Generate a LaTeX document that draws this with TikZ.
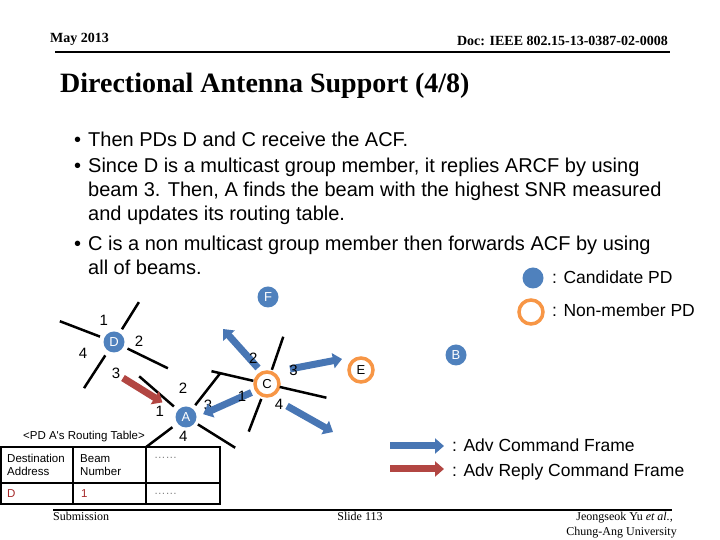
\documentclass[tikz,border=0pt]{standalone}
\usepackage{fontspec}
\setmainfont{Liberation Serif}
\newfontfamily\arialfont{Liberation Sans}
\usetikzlibrary{arrows.meta,calc}

\definecolor{pdblue}{RGB}{79,129,189}
\definecolor{pdorange}{RGB}{247,150,70}
\definecolor{cmdblue}{RGB}{72,118,180}
\definecolor{replyred}{RGB}{178,70,66}
\definecolor{tabred}{RGB}{165,40,40}

\tikzset{
  candidate/.style={circle,fill=pdblue,text=white,minimum size=21pt,inner sep=0pt,
    font=\arialfont\fontsize{13}{13}\selectfont},
  nonmember/.style={circle,draw=pdorange,line width=3.5pt,fill=white,minimum size=24pt,
    inner sep=0pt,font=\arialfont\fontsize{13}{13}\selectfont},
  beam/.style={line width=2.5pt},
  beamno/.style={inner sep=0pt,font=\arialfont\fontsize{15}{15}\selectfont},
  cmdarrow/.style={draw=cmdblue,line width=7pt,-{Triangle[length=9pt,width=15pt]}},
  replyarrow/.style={cmdarrow,draw=replyred},
  bodytext/.style={anchor=base west,inner sep=0pt,font=\arialfont\fontsize{20}{24}\selectfont},
  legendtext/.style={anchor=base west,inner sep=0pt,font=\arialfont\fontsize{17.5}{20}\selectfont},
  tabletext/.style={anchor=west,inner sep=0pt,align=left,font=\arialfont\fontsize{11.5}{13}\selectfont},
  slidetext/.style={inner sep=0pt,font=\fontsize{12}{14}\selectfont},
}

\begin{document}
\begin{tikzpicture}[x=1pt,y=1pt]
  \useasboundingbox (0,0) rectangle (720,540);

  % header and title
  \node[slidetext,anchor=base west,font=\bfseries\fontsize{14}{14}\selectfont] (date) at (50,497) {May 2013};
  \node[slidetext,anchor=base east,font=\bfseries\fontsize{14}{14}\selectfont] (doc) at (668,494) {Doc: IEEE 802.15-13-0387-02-0008};
  \draw[line width=2.5pt] (55,488) -- (670,488);
  \node[anchor=base west,inner sep=0pt,font=\bfseries\fontsize{28}{28}\selectfont] (title) at (60,447) {Directional Antenna Support (4/8)};

  % bullets
  \node[bodytext] (dot1) at (74,393) {•};
  \node[bodytext] (line1) at (88,393) {Then PDs D and C receive the ACF.};
  \node[bodytext] (dot2) at (74,367) {•};
  \node[bodytext] (line2) at (88,367) {Since D is a multicast group member, it replies ARCF by using};
  \node[bodytext] (line3) at (88,343) {beam 3. Then, A finds the beam with the highest SNR measured};
  \node[bodytext] (line4) at (88,319) {and updates its routing table.};
  \node[bodytext] (dot3) at (74,289) {•};
  \node[bodytext] (line5) at (88,289) {C is a non multicast group member then forwards ACF by using};
  \node[bodytext] (line6) at (88,265) {all of beams.};

  % legend
  \node[candidate] (keycand) at (533,262) {};
  \node[nonmember] (keynon) at (531,228) {};
  \node[legendtext] (keycandtext) at (552,256) {: Candidate PD};
  \node[legendtext] (keynontext) at (552,223) {: Non-member PD};
  \coordinate (keycmd) at (390,94);
  \coordinate (keycmdtip) at (444,94);
  \coordinate (keyrep) at (390,71);
  \coordinate (keyreptip) at (444,71);
  \draw[cmdarrow] (keycmd) -- (keycmdtip);
  \draw[replyarrow] (keyrep) -- (keyreptip);
  \node[legendtext] (keycmdtext) at (452,88) {: Adv Command Frame};
  \node[legendtext] (keyreptext) at (452,63) {: Adv Reply Command Frame};

  % PDs
  \node[candidate] (D) at (114,198) {D};
  \node[candidate] (A) at (186,123) {A};
  \node[nonmember] (C) at (267,156) {C};
  \node[nonmember] (E) at (361,170) {E};
  \node[candidate] (B) at (456,185) {B};
  \node[candidate] (F) at (268,243) {F};

  % beams of D, A and C
  \foreach \ang/\rin/\rout in {58/15/47,159/15/58,237/16/55,-26/15/60}
    \draw[beam] ($(D)+(\ang:\rin)$) -- ($(D)+(\ang:\rout)$);
  \foreach \ang/\r/\n in {115/24/1,2/25/2,-86/31/3,200/33/4}
    \node[beamno] (D-b\n) at ($(D)+(\ang:\r)$) {\n};
  \foreach \ang/\rin/\rout in {139/16/62,52/15/56,217/17/50,-32/14/58}
    \draw[beam] ($(A)+(\ang:\rin)$) -- ($(A)+(\ang:\rout)$);
  \foreach \ang/\r/\n in {167/27/1,96/29/2,28/25/3,-98/20/4}
    \node[beamno] (A-b\n) at ($(A)+(\ang:\r)$) {\n};
  \foreach \ang/\rin/\rout in {71/15/50,167/14/57,-13/13/61,249/16/51}
    \draw[beam] ($(C)+(\ang:\rin)$) -- ($(C)+(\ang:\rout)$);

  % frames sent
  \coordinate (c2tail) at (258,172);
  \coordinate (c2tip) at (223,211);
  \coordinate (c3tail) at (290,171);
  \coordinate (c3tip) at (342,181);
  \coordinate (c4tail) at (287,134);
  \coordinate (c4tip) at (333,108);
  \coordinate (d3tail) at (123,162);
  \draw[cmdarrow] (c2tail) -- (c2tip);
  \draw[cmdarrow] (c3tail) -- (c3tip);
  \draw[cmdarrow] (c4tail) -- (c4tip);
  \draw[cmdarrow,shorten <=4pt,shorten >=7pt] (C.210) -- (A.0);
  \draw[replyarrow,shorten >=17pt] (d3tail) -- (A);
  \foreach \ang/\r/\n in {207/28/1,118/29/2,28/30/3,-60/24/4}
    \node[beamno] (C-b\n) at ($(C)+(\ang:\r)$) {\n};

  % routing table of A
  \node[anchor=base,inner sep=0pt,font=\arialfont\fontsize{11.5}{13}\selectfont] (tabtitle) at (84,100) {<PD A's Routing Table>};
  \draw[line width=2pt] (1,93) rectangle (220,36);
  \draw[line width=2pt] (73,93) -- (73,36);
  \draw[line width=2pt] (146,93) -- (146,36);
  \draw[line width=2pt] (1,57) -- (220,57);
  \node[tabletext] (dest) at (7,75) {Destination\\Address};
  \node[tabletext] (beamcol) at (80,75) {Beam\\Number};
  \node[tabletext,text=gray] (morecol) at (154,82) {……};
  \node[tabletext,text=tabred] (destD) at (7,46) {D};
  \node[tabletext,text=tabred] (beamD) at (81,46) {1};
  \node[tabletext,text=gray] (moreD) at (154,46) {……};

  % footer
  \draw[line width=1.5pt] (53,30) -- (672,30);
  \node[slidetext,anchor=base west] (sub) at (53,19) {Submission};
  \node[slidetext,anchor=base] (slide) at (360,19) {Slide 113};
  \node[slidetext,anchor=base east] (auth) at (673,19) {Jeongseok Yu \textit{et al.},};
  \node[slidetext,anchor=base east] (univ) at (677,4) {Chung-Ang University};
\end{tikzpicture}
\end{document}
